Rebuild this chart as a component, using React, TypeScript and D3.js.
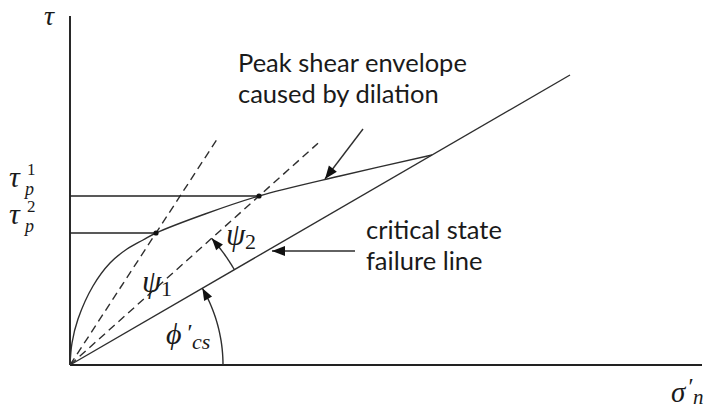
import React from "react";
import * as d3 from "d3";

// Shear stress (tau) vs. effective normal stress (sigma'n), arbitrary units
const W = 708;
const H = 409;

const axisMaxSigma = 63.2;
const axisMaxTau = 34.9;

// Critical state failure line: tau = tanPhiCs * sigma
const tanPhiCs = 0.58;
const csLineEndSigma = 50;

// Peak shear envelope caused by dilation (sigma, tau)
const envelopeSigma = [0, 0.2, 0.8, 2.3, 4.0, 5.7, 7.3, 8.6, 13.5, 18.9, 27.0, 36.2];
const envelopeTau = [0, 2.2, 4.6, 7.9, 10.2, 11.6, 12.5, 13.2, 15.1, 16.9, 18.9, 21.0];

// Peak points, their tau_p labels and dilation lines
const peakTauLabels = ["2", "1"];
const peakSigma = [8.6, 18.9];
const peakTau = [13.2, 16.9];
const dilationEndSigma = [14.9, 24.8];

// Angle arcs (radius in stress units)
const psiArcRadius = 19;
const phiArcRadius = 15.3;

// Annotation arrows (from -> to)
const peakArrow = { from: [29.3, 23.6], to: [25.5, 18.6] };
const csArrow = { from: [28.5, 11.4], to: [20.2, 11.4] };

const lineColor = "#2e2e2e";
const textColor = "#1a1a1a";
const mathFont = "'Liberation Serif', serif";
const textFont = "Lato, 'Open Sans', sans-serif";

export default function App() {
  const x = d3.scaleLinear().domain([0, axisMaxSigma]).range([70, 702]);
  const y = d3.scaleLinear().domain([0, axisMaxTau]).range([365, 16]);

  const line = d3
    .line<[number, number]>()
    .x((d) => x(d[0]))
    .y((d) => y(d[1]));

  const envelope = d3
    .line<[number, number]>()
    .x((d) => x(d[0]))
    .y((d) => y(d[1]))
    .curve(d3.curveCatmullRom.alpha(0.5));

  const envPts = envelopeSigma.map((s, i) => [s, envelopeTau[i]] as [number, number]);

  const arcPts = (r: number, a0: number, a1: number) =>
    d3.range(0, 1.0001, 0.05).map((t) => {
      const a = a0 + (a1 - a0) * t;
      return [r * Math.cos(a), r * Math.sin(a)] as [number, number];
    });

  const phiAngle = Math.atan(tanPhiCs);
  const dil2Angle = Math.atan(peakTau[1] / peakSigma[1]);

  const arrowHead = (tip: [number, number], from: [number, number], len = 11, half = 4.2) => {
    const tx = x(tip[0]);
    const ty = y(tip[1]);
    const fx = x(from[0]);
    const fy = y(from[1]);
    const dx = tx - fx;
    const dy = ty - fy;
    const L = Math.hypot(dx, dy);
    const ux = dx / L;
    const uy = dy / L;
    const bx = tx - ux * len;
    const by = ty - uy * len;
    return `M${tx},${ty}L${bx - uy * half},${by + ux * half}L${bx + uy * half},${by - ux * half}Z`;
  };

  const psiArc = arcPts(psiArcRadius, phiAngle, dil2Angle);
  const phiArc = arcPts(phiArcRadius, 0, phiAngle);

  return (
    <svg
      width={W}
      height={H}
      style={{ position: "absolute", left: 0, top: 0, background: "#fff" }}
    >
      {/* axes */}
      <line x1={x(0)} y1={y(0)} x2={x(0)} y2={y(axisMaxTau)} stroke="#111" strokeWidth={1.8} />
      <line x1={x(0)} y1={y(0)} x2={x(axisMaxSigma)} y2={y(0)} stroke="#222" strokeWidth={1.8} />

      {/* critical state line */}
      <path
        d={line([[0, 0], [csLineEndSigma, csLineEndSigma * tanPhiCs]]) || ""}
        stroke={lineColor}
        strokeWidth={1.4}
        fill="none"
      />

      {/* dilation lines */}
      {peakSigma.map((s, i) => (
        <path
          key={"dil" + i}
          d={line([[0, 0], [dilationEndSigma[i], (dilationEndSigma[i] * peakTau[i]) / s]]) || ""}
          stroke={lineColor}
          strokeWidth={1.4}
          strokeDasharray="8,5"
          fill="none"
        />
      ))}

      {/* peak tau guide lines */}
      {peakSigma.map((s, i) => (
        <line
          key={"h" + i}
          x1={x(0)}
          y1={y(peakTau[i])}
          x2={x(s)}
          y2={y(peakTau[i])}
          stroke="#222"
          strokeWidth={1.4}
        />
      ))}

      {/* peak envelope */}
      <path d={envelope(envPts) || ""} stroke={lineColor} strokeWidth={1.4} fill="none" />

      {peakSigma.map((s, i) => (
        <circle key={"p" + i} cx={x(s)} cy={y(peakTau[i])} r={2.6} fill="#111" />
      ))}

      {/* angle arcs */}
      <path d={line(psiArc) || ""} stroke={lineColor} strokeWidth={1.4} fill="none" />
      <path d={arrowHead(psiArc[psiArc.length - 1], psiArc[psiArc.length - 3], 12, 4.5)} fill="#111" />
      <path d={line(phiArc) || ""} stroke={lineColor} strokeWidth={1.4} fill="none" />
      <path d={arrowHead(phiArc[phiArc.length - 1], phiArc[phiArc.length - 3], 12, 4.5)} fill="#111" />

      {/* annotation arrows */}
      <path d={line([peakArrow.from as [number, number], peakArrow.to as [number, number]]) || ""} stroke={lineColor} strokeWidth={1.4} />
      <path d={arrowHead(peakArrow.to as [number, number], peakArrow.from as [number, number], 13, 5)} fill="#111" />
      <path d={line([csArrow.from as [number, number], csArrow.to as [number, number]]) || ""} stroke={lineColor} strokeWidth={1.4} />
      <path d={arrowHead(csArrow.to as [number, number], csArrow.from as [number, number], 13, 5)} fill="#111" />

      {/* annotation text */}
      <g fill={textColor} fontFamily={textFont} fontSize={25.5}>
        <text x={238} y={72}>Peak shear envelope</text>
        <text x={238} y={103}>caused by dilation</text>
        <text x={366} y={239}>critical state</text>
        <text x={366} y={270}>failure line</text>
      </g>

      {/* math labels */}
      <g fill={textColor} fontFamily={mathFont}>
        <text x={44} y={25} fontSize={28} fontStyle="italic">τ</text>

        {peakTau.map((t, i) => (
          <text key={"tl" + i} x={9} y={y(t) - 9} fontSize={30} fontStyle="italic">
            τ
            <tspan x={27} y={y(t) - 21} fontSize={17} fontStyle="normal">
              {peakTauLabels[i]}
            </tspan>
            <tspan x={25} y={y(t) - 1} fontSize={18}>
              p
            </tspan>
          </text>
        ))}

        <text x={142} y={292} fontSize={31} fontStyle="italic">
          ψ
          <tspan x={161} y={296} fontSize={22} fontStyle="normal">1</tspan>
        </text>
        <text x={226} y={245} fontSize={31} fontStyle="italic">
          ψ
          <tspan x={245} y={249} fontSize={22} fontStyle="normal">2</tspan>
        </text>

        <text x={166} y={344} fontSize={30} fontStyle="italic">
          ϕ
          <tspan x={186} y={340} fontSize={24}>′</tspan>
          <tspan x={192} y={349} fontSize={22}>cs</tspan>
        </text>

        <text x={671} y={402} fontSize={29} fontStyle="italic">
          σ
          <tspan x={687} y={394} fontSize={24}>′</tspan>
          <tspan x={693} y={404} fontSize={21}>n</tspan>
        </text>
      </g>
    </svg>
  );
}
